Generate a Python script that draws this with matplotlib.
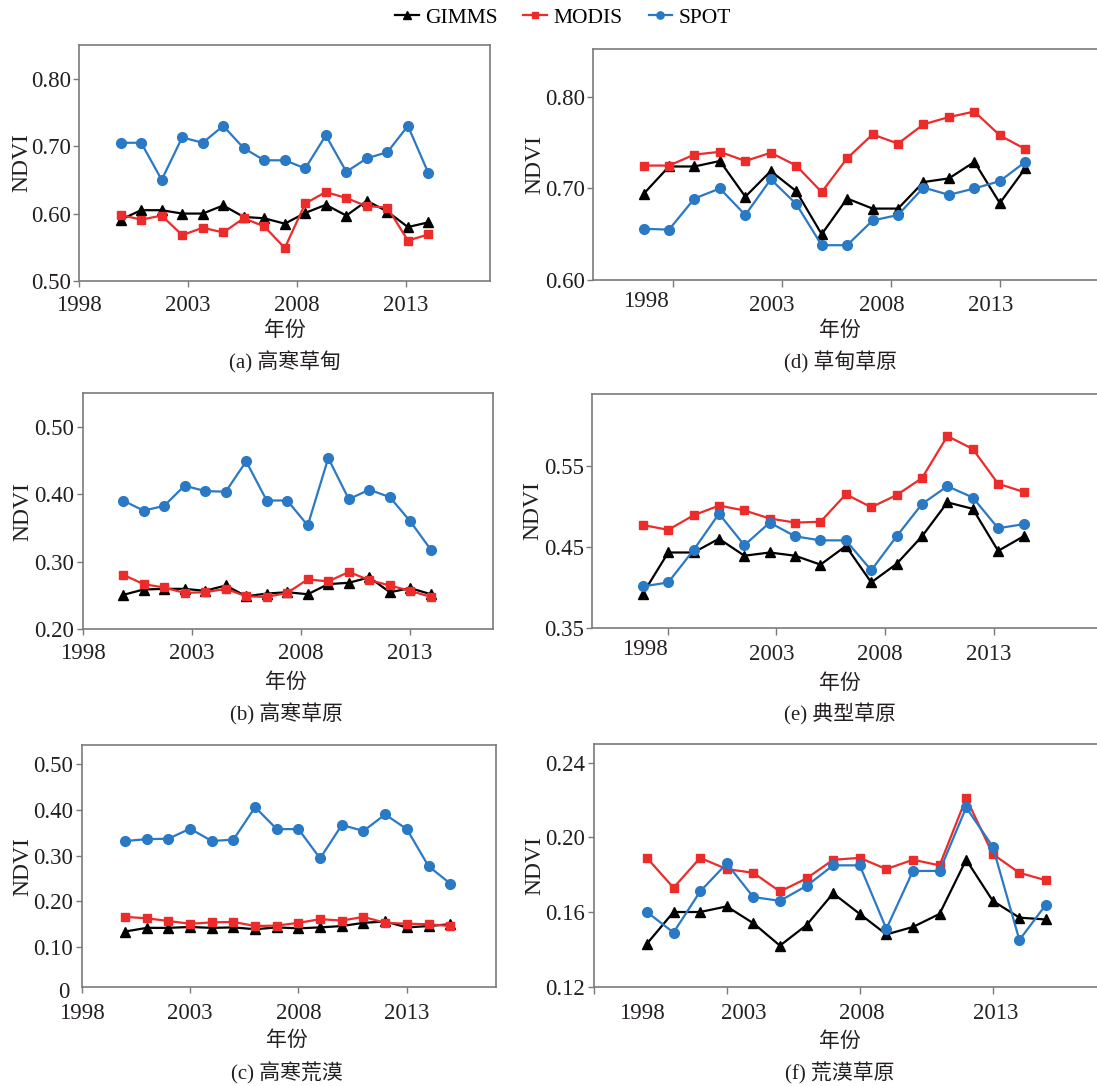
import numpy as np
import matplotlib.pyplot as plt
from matplotlib.ticker import FixedLocator, FormatStrFormatter
from matplotlib.transforms import ScaledTranslation

plt.rcParams['font.family'] = ['Liberation Serif', 'Noto Sans CJK SC']
plt.rcParams['font.size'] = 15

W, H = 1097, 1086
BLUE = '#2a79c4'
RED = '#ec2b2b'
GRAY = '#7a7a7a'
TEXT = '#231f20'

series_names = ["GIMMS", "MODIS", "SPOT"]
tick_years = [1998, 2003, 2008, 2013]

# (a) 高寒草甸
a_gimms = [0.591, 0.605, 0.605, 0.600, 0.600, 0.612, 0.595, 0.593, 0.585, 0.601, 0.613, 0.597, 0.619, 0.603, 0.580, 0.587]
a_modis = [0.598, 0.591, 0.597, 0.568, 0.579, 0.572, 0.593, 0.581, 0.549, 0.615, 0.632, 0.623, 0.611, 0.609, 0.560, 0.569]
a_spot = [0.705, 0.705, 0.650, 0.713, 0.705, 0.730, 0.697, 0.679, 0.679, 0.667, 0.716, 0.662, 0.682, 0.691, 0.730, 0.660]

# (b) 高寒草原
b_gimms = [0.251, 0.259, 0.260, 0.260, 0.257, 0.265, 0.249, 0.253, 0.255, 0.252, 0.267, 0.269, 0.277, 0.255, 0.261, 0.252]
b_modis = [0.281, 0.267, 0.262, 0.254, 0.255, 0.260, 0.249, 0.248, 0.254, 0.274, 0.271, 0.285, 0.273, 0.265, 0.257, 0.248]
b_spot = [0.391, 0.376, 0.383, 0.413, 0.405, 0.404, 0.449, 0.391, 0.391, 0.354, 0.454, 0.393, 0.407, 0.396, 0.360, 0.318]

# (c) 高寒荒漠
c_gimms = [0.134, 0.142, 0.142, 0.144, 0.142, 0.143, 0.139, 0.143, 0.141, 0.143, 0.146, 0.153, 0.156, 0.143, 0.146, 0.150]
c_modis = [0.166, 0.163, 0.157, 0.151, 0.154, 0.155, 0.146, 0.147, 0.153, 0.161, 0.158, 0.166, 0.153, 0.151, 0.150, 0.146]
c_spot = [0.332, 0.336, 0.337, 0.359, 0.332, 0.335, 0.406, 0.358, 0.358, 0.294, 0.367, 0.354, 0.390, 0.358, 0.277, 0.239]

# (d) 草甸草原
d_gimms = [0.694, 0.724, 0.724, 0.730, 0.691, 0.719, 0.697, 0.650, 0.689, 0.678, 0.678, 0.707, 0.711, 0.729, 0.684, 0.722]
d_modis = [0.725, 0.725, 0.737, 0.740, 0.730, 0.739, 0.725, 0.696, 0.733, 0.759, 0.749, 0.770, 0.778, 0.784, 0.758, 0.743]
d_spot = [0.656, 0.655, 0.689, 0.700, 0.671, 0.710, 0.683, 0.638, 0.638, 0.665, 0.671, 0.701, 0.693, 0.700, 0.708, 0.729]

# (e) 典型草原
e_gimms = [0.392, 0.443, 0.443, 0.460, 0.439, 0.443, 0.439, 0.428, 0.451, 0.406, 0.429, 0.463, 0.505, 0.497, 0.445, 0.463]
e_modis = [0.477, 0.471, 0.489, 0.501, 0.495, 0.485, 0.480, 0.481, 0.515, 0.499, 0.514, 0.535, 0.587, 0.571, 0.528, 0.518]
e_spot = [0.401, 0.406, 0.446, 0.491, 0.452, 0.480, 0.463, 0.458, 0.458, 0.421, 0.463, 0.503, 0.525, 0.511, 0.473, 0.478]

# (f) 荒漠草原
f_gimms = [0.143, 0.160, 0.160, 0.163, 0.154, 0.142, 0.153, 0.170, 0.159, 0.148, 0.152, 0.159, 0.188, 0.166, 0.157, 0.156]
f_modis = [0.189, 0.173, 0.189, 0.183, 0.181, 0.171, 0.178, 0.188, 0.189, 0.183, 0.188, 0.185, 0.221, 0.191, 0.181, 0.177]
f_spot = [0.160, 0.149, 0.171, 0.186, 0.168, 0.166, 0.174, 0.185, 0.185, 0.151, 0.182, 0.182, 0.216, 0.195, 0.145, 0.164]

# layout per panel: box in pixels (left, top, right, bottom), x placement of the points,
# x/y limits, y ticks, and where the year labels sit (None = under the ticks)
panels = [
    dict(data=(a_gimms, a_modis, a_spot), caption="(a) 高寒草甸", box=(79, 45, 490, 281),
         x0=1999.91, dx=0.941, xlim=(1998, 2016.85), ylim=(0.50, 0.85), xpad=10, lift=0,
         yticks=[0.5, 0.6, 0.7, 0.8], labx=None, ylab_x=22, cap_x=285, cap_y=(331, 362)),
    dict(data=(b_gimms, b_modis, b_spot), caption="(b) 高寒草原", box=(82.7, 393.3, 492.7, 629.3),
         x0=1999.85, dx=0.941, xlim=(1998, 2016.8), ylim=(0.20, 0.55), xpad=10, lift=0,
         yticks=[0.2, 0.3, 0.4, 0.5], labx=None, ylab_x=23, cap_x=286, cap_y=(683, 714)),
    dict(data=(c_gimms, c_modis, c_spot), caption="(c) 高寒荒漠", box=(81.7, 745, 495.7, 987.3),
         x0=2000, dx=1.0, xlim=(1998, 2017.1), ylim=(0.012, 0.542), xpad=11, lift=0,
         yticks=[0.1, 0.2, 0.3, 0.4, 0.5], labx=None, ylab_x=23, cap_x=287, cap_y=(1041, 1073)),
    dict(data=(d_gimms, d_modis, d_spot), caption="(d) 草甸草原", box=(593, 49.3, 1100, 280),
         x0=1996.65, dx=1.168, xlim=(1994.33, 2017.6), ylim=(0.60, 0.852), xpad=11, lift=3,
         yticks=[0.6, 0.7, 0.8], labx=[1996.77, 2002.55, 2007.57, 2012.57], ylab_x=535, cap_x=840, cap_y=(331, 362)),
    dict(data=(e_gimms, e_modis, e_spot), caption="(e) 典型草原", box=(592, 394, 1100, 627.7),
         x0=1996.86, dx=1.168, xlim=(1994.52, 2017.9), ylim=(0.35, 0.639), xpad=12, lift=4,
         yticks=[0.35, 0.45, 0.55], labx=[1996.94, 2002.77, 2007.77, 2012.8], ylab_x=533, cap_x=840, cap_y=(684, 714)),
    dict(data=(f_gimms, f_modis, f_spot), caption="(f) 荒漠草原", box=(593.7, 744, 1100, 986.7),
         x0=2000, dx=1.0, xlim=(1998, 2017.03), ylim=(0.12, 0.25), xpad=12, lift=0,
         yticks=[0.12, 0.16, 0.20, 0.24], labx=[1999.82, 2003.65, 2008.09, 2013.11], ylab_x=535, cap_x=840, cap_y=(1042, 1073)),
]

styles = [
    dict(color='black', marker='^', ms=7),
    dict(color=RED, marker='s', ms=5.8),
    dict(color=BLUE, marker='o', ms=7),
]

fig = plt.figure(figsize=(W / 100, H / 100), dpi=100)

handles = []
for p in panels:
    left, top, right, bottom = p["box"]
    ax = fig.add_axes([left / W, 1 - bottom / H, (right - left) / W, (bottom - top) / H])
    n = len(p["data"][0])
    x = p["x0"] + p["dx"] * np.arange(n)
    lines = []
    for name, vals, st in zip(series_names, p["data"], styles):
        ln, = ax.plot(x, vals, lw=1.6, label=name, clip_on=False, **st)
        lines.append(ln)
    if not handles:
        handles = lines

    ax.set_xlim(*p["xlim"])
    ax.set_ylim(*p["ylim"])
    ax.set_yticks(p["yticks"])
    ax.yaxis.set_major_formatter(FormatStrFormatter('%.2f'))

    if p["labx"] is None:
        ax.set_xticks(tick_years)
        ax.set_xticklabels([str(y) for y in tick_years])
        ax.tick_params(axis='x', which='major', length=4, width=1, color=GRAY, pad=p["xpad"] - 4)
    else:
        # tick marks on the years, labels drawn a bit to the side as in the source figure
        ax.xaxis.set_minor_locator(FixedLocator(tick_years))
        ax.set_xticks(p["labx"])
        ax.set_xticklabels([str(y) for y in tick_years])
        ax.tick_params(axis='x', which='major', length=0, pad=p["xpad"])
        ax.tick_params(axis='x', which='minor', length=5, width=1, color=GRAY)

    ax.tick_params(axis='y', length=4, width=1, color=GRAY, pad=2)
    ax.tick_params(labelsize=16.5, labelcolor=TEXT)

    if p["lift"]:
        # first year label sits a little higher in the source
        lbl = ax.get_xticklabels()[0]
        lbl.set_transform(lbl.get_transform() + ScaledTranslation(0, p["lift"] / 72, fig.dpi_scale_trans))

    if p["caption"].startswith("(c)"):
        ax.text(-0.03, 0.0, "0", transform=ax.get_yaxis_transform(), ha='right', va='center',
                fontsize=16.5, color=TEXT, clip_on=False)

    for sp in ax.spines.values():
        sp.set_color(GRAY)
        sp.set_linewidth(1.2)

    fig.text(p["ylab_x"] / W, 1 - (top + bottom) / 2 / H, "NDVI", rotation=90,
             ha='center', va='center', fontsize=17, color=TEXT)
    fig.text(p["cap_x"] / W, 1 - p["cap_y"][0] / H, "年份", ha='center', va='center',
             fontsize=15, color=TEXT)
    fig.text(p["cap_x"] / W, 1 - p["cap_y"][1] / H, p["caption"], ha='center', va='center',
             fontsize=15, color=TEXT)

fig.legend(handles, series_names, loc='center', bbox_to_anchor=(563 / W, 1 - 18 / H),
           ncol=3, frameon=False, fontsize=15.5, handlelength=1.1, handletextpad=0.3,
           columnspacing=1.2, markerscale=0.75)

fig.savefig("out.png", dpi=100)
